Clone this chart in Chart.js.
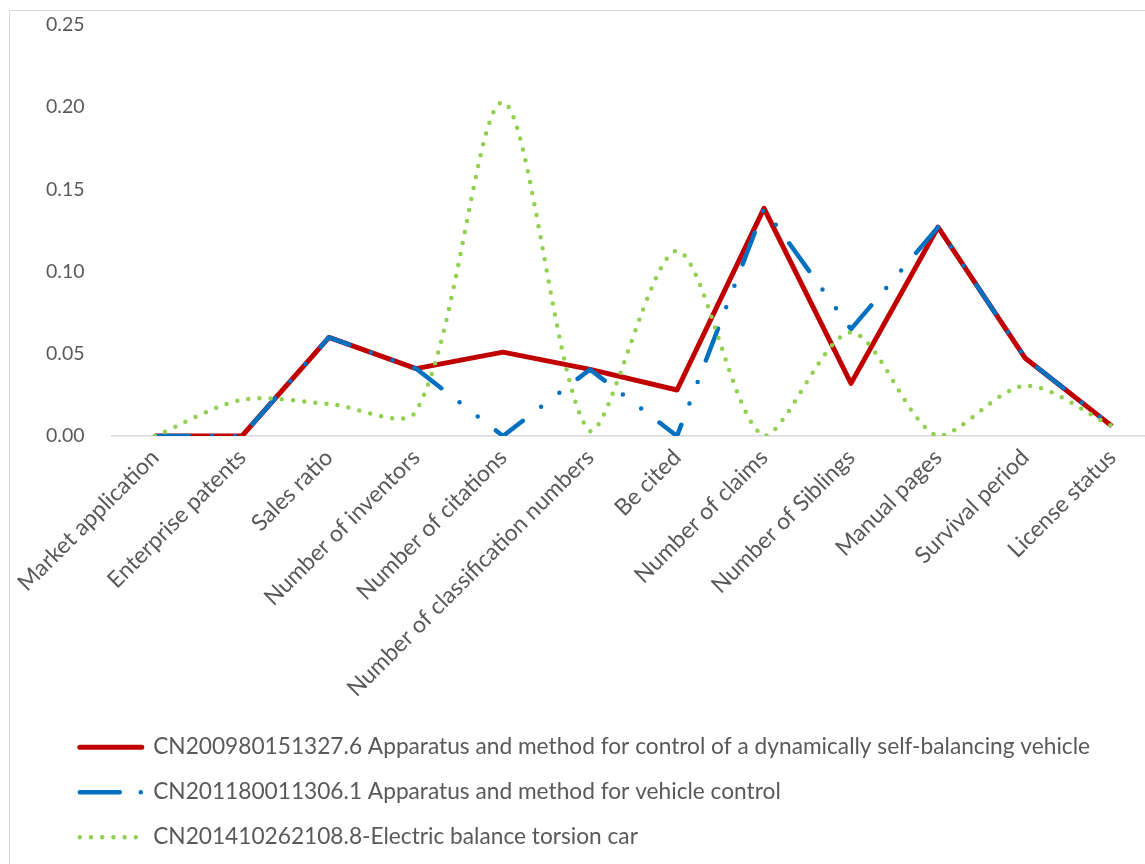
<!DOCTYPE html>
<html>
<head>
<meta charset="utf-8">
<title>Patent indicator weights</title>
<script src="https://cdn.jsdelivr.net/npm/chart.js@4/dist/chart.umd.min.js"></script>
<style>
  html, body { margin: 0; padding: 0; background: #fff; overflow: hidden; }
  #wrap { position: relative; width: 1145px; height: 864px; overflow: hidden; }
  #frame { position: absolute; left: 9px; top: 10px; width: 1200px; height: 900px;
           border-left: 1px solid #d9d9d9; border-top: 1px solid #d9d9d9; pointer-events: none; }
  #cv { position: absolute; left: 0; top: 0; }
</style>
</head>
<body>
<div id="wrap">
  <canvas id="cv" width="1170" height="864"></canvas>
  <div id="frame"></div>
</div>
<script>
// Evaluation indicators along the x axis
const categories = [
  'Market application', 'Enterprise patents', 'Sales ratio', 'Number of inventors',
  'Number of citations', 'Number of classification numbers', 'Be cited',
  'Number of claims', 'Number of Siblings', 'Manual pages', 'Survival period', 'License status'
];

const seriesNames = [
  'CN200980151327.6 Apparatus and method for control of a dynamically self-balancing vehicle',
  'CN201180011306.1 Apparatus and method for vehicle control',
  'CN201410262108.8-Electric balance torsion car'
];

// Weighted indicator values per patent
const selfBalancing = [0, 0, 0.060, 0.041, 0.051, 0.0405, 0.028, 0.1385, 0.032, 0.127, 0.0475, 0.006];
const vehicleControl = [0, 0, 0.060, 0.041, 0, 0.0405, 0, 0.1385, 0.065, 0.127, 0.0475, 0.006];
const torsionCar = [0, 0.022, 0.0195, 0.015, 0.203, 0.003, 0.1125, 0, 0.063, 0, 0.0305, 0.006];

const yTicks = [0, 0.05, 0.10, 0.15, 0.20, 0.25];

const textColor = '#595959';
const fontFamily = 'Lato, "Open Sans", sans-serif';

const styles = [
  { color: '#C00000', width: 5, dash: [], cap: 'butt', tension: 0, legendDash: [] },
  { color: '#0070C0', width: 4.5, dash: [34, 23, 0, 23, 0, 23], cap: 'round', tension: 0, legendDash: [40, 21, 0, 40] },
  { color: '#92D050', width: 4.5, dash: [0, 11.2], cap: 'round', tension: 0.3, legendDash: [0, 11.2] }
];

const values = [selfBalancing, vehicleControl, torsionCar];

const datasets = values.map((data, i) => ({
  label: seriesNames[i],
  data: data,
  borderColor: styles[i].color,
  backgroundColor: styles[i].color,
  borderWidth: styles[i].width,
  borderDash: styles[i].dash,
  borderCapStyle: styles[i].cap,
  borderJoinStyle: 'round',
  tension: styles[i].tension,
  pointRadius: 0,
  pointHoverRadius: 0,
  fill: false,
  order: 3 - i
}));

// Indent the legend block to line up under the plot
const legendIndent = {
  id: 'legendIndent',
  afterLayout(chart) {
    const lg = chart.legend;
    if (lg) { lg.left += 11.5; lg.right += 11.5; }
  }
};

const chart = new Chart(document.getElementById('cv'), {
  type: 'line',
  data: { labels: categories, datasets: datasets },
  plugins: [legendIndent],
  options: {
    responsive: false,
    animation: false,
    events: [],
    layout: { padding: { left: 46, top: 25, right: 14.5, bottom: 5.5 } },
    plugins: {
      tooltip: { enabled: false },
      legend: {
        position: 'bottom',
        align: 'start',
        labels: {
          color: textColor,
          font: { family: fontFamily, size: 22.7 },
          padding: 22.3,
          usePointStyle: true,
          pointStyleWidth: 62,
          generateLabels: (c) => c.data.datasets.map((ds, i) => ({
            text: ds.label,
            fontColor: textColor,
            strokeStyle: styles[i].color,
            fillStyle: styles[i].color,
            lineWidth: styles[i].width,
            lineDash: styles[i].legendDash,
            lineCap: 'round',
            pointStyle: 'line',
            hidden: false,
            datasetIndex: i
          }))
        }
      }
    },
    scales: {
      x: {
        offset: true,
        grid: { display: false, drawTicks: false },
        border: { display: true, color: '#d9d9d9', width: 1.5 },
        ticks: {
          color: textColor,
          font: { family: fontFamily, size: 23 },
          minRotation: 45,
          maxRotation: 45,
          autoSkip: false,
          padding: 8
        },
        afterFit: (scale) => { scale.height = 277.5; }
      },
      y: {
        min: 0,
        max: 0.25,
        grid: { display: false, drawTicks: false },
        border: { display: false },
        afterBuildTicks: (scale) => { scale.ticks = yTicks.map(v => ({ value: v })); },
        ticks: {
          color: textColor,
          font: { family: fontFamily, size: 19.5 },
          padding: 0,
          crossAlign: 'far',
          callback: (v) => Number(v).toFixed(2)
        },
        afterFit: (scale) => { scale.width = 65.5; }
      }
    }
  }
});
</script>
</body>
</html>
